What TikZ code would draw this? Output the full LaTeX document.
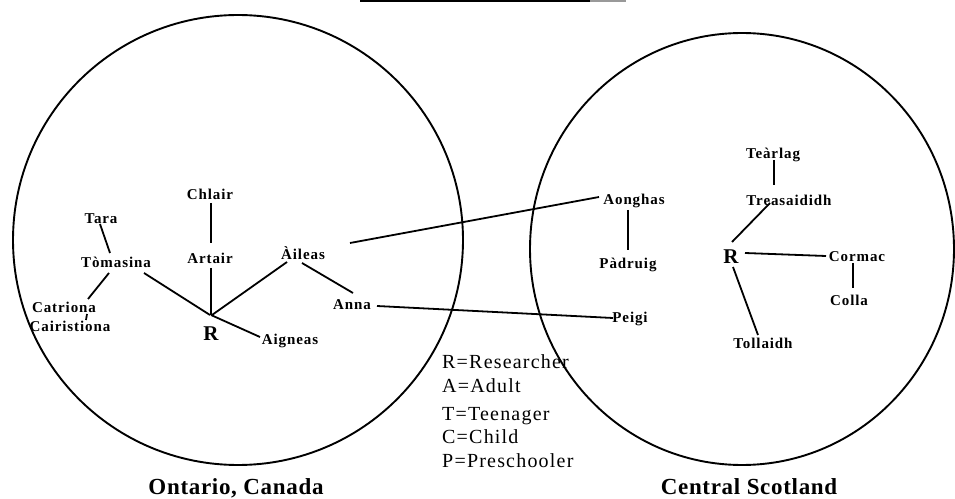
\documentclass[tikz,border=0pt]{standalone}
\usepackage{fontspec}
\setmainfont{Liberation Serif}
\newfontfamily\namefont[LetterSpace=6]{Liberation Serif}
\newfontfamily\legfont[LetterSpace=6]{Liberation Serif}
\newfontfamily\placefont[LetterSpace=3]{Liberation Serif}
\usetikzlibrary{calc}
\begin{document}
\begin{tikzpicture}[x=1bp,y=-1bp,
  person/.style={inner sep=1bp,font=\namefont\bfseries\fontsize{15bp}{17bp}\selectfont},
  rnode/.style={inner sep=1bp,font=\bfseries\fontsize{21bp}{24bp}\selectfont},
  legend/.style={anchor=base west,inner sep=0pt,font=\legfont\fontsize{20bp}{24bp}\selectfont},
  place/.style={anchor=base,inner sep=0pt,font=\placefont\bfseries\fontsize{23bp}{26bp}\selectfont},
  ring/.style={draw=black,line width=1.9bp},
  link/.style={draw=black,line width=1.8bp}]
\useasboundingbox (0,0) rectangle (955,499);

% circles
\draw[ring] (238,240) circle [radius=225];
\draw[ring] (742,249) ellipse [x radius=212, y radius=216];

% cut-off title rule at the top
\coordinate (t1) at (360,1);
\coordinate (t2) at (590,1);
\coordinate (t3) at (626,1);
\draw[line width=2.4bp] (t1) -- (t2);
\draw[line width=2.4bp,black!40] (t2) -- (t3);

% left tree
\node[person] (tara) at (101,219) {Tara};
\node[person] (toma) at (116,262) {Tòmasina};
\node[person] (catr) at (64,307) {Catriona};
\node[person] (cair) at (70,326) {Cairistiona};
\node[person] (chla) at (210,194) {Chlair};
\node[person] (arta) at (210,258) {Artair};
\node[person] (aile) at (303,253) {Àileas};
\node[person] (anna) at (352,305) {Anna};
\node[rnode]  (rl)   at (211,334) {R};
\node[person] (aign) at (290,341) {Aigneas};

% right tree
\node[person] (aong) at (634,201) {Aonghas};
\node[person] (padr) at (628,265) {Pàdruig};
\node[person] (peig) at (630,319) {Peigi};
\node[person] (tear) at (773,155) {Teàrlag};
\node[person] (trea) at (789,200) {Treasaididh};
\node[rnode]  (rr)   at (731,257) {R};
\node[person] (corm) at (857,257) {Cormac};
\node[person] (coll) at (849,300) {Colla};
\node[person] (toll) at (763,343) {Tollaidh};

% left connectors
\draw[link] ($(tara)+(-1,5)$) -- ($(toma)+(-6,-9)$);
\draw[link] ($(toma)+(-7,11)$) -- ($(catr)+(24,-8)$);
\draw[link] ($(catr)+(23,7)$) -- ($(cair)+(16,-6)$);
\draw[link] ($(toma)+(28,11)$) -- ($(rl)+(-1,-19)$);
\draw[link] ($(chla)+(1,9)$) -- ($(arta)+(1,-15)$);
\draw[link] ($(arta)+(1,10)$) -- ($(rl)+(0,-19)$);
\draw[link] ($(aile)+(-16,9)$) -- ($(rl)+(1,-19)$);
\draw[link] ($(aile)+(-1,10)$) -- ($(anna)+(1,-12)$);
\draw[link] ($(rl)+(0,-19)$) -- ($(aign)+(-30,-4)$);

% cross connectors
\draw[link] ($(aile)+(47,-10)$) -- ($(aong)+(-35,-4)$);
\draw[link] ($(anna)+(25,1)$) -- ($(peig)+(-17,-1)$);

% right connectors
\draw[link] ($(aong)+(-6,9)$) -- ($(padr)+(0,-15)$);
\draw[link] ($(tear)+(1,5)$) -- ($(trea)+(-15,-15)$);
\draw[link] ($(trea)+(-19,3)$) -- ($(rr)+(1,-15)$);
\draw[link] ($(rr)+(14,-4)$) -- ($(corm)+(-31,-1)$);
\draw[link] ($(corm)+(-4,6)$) -- ($(coll)+(4,-12)$);
\draw[link] ($(rr)+(2,10)$) -- ($(toll)+(-5,-8)$);

% legend
\node[legend] (l1) at (442,369) {R=Researcher};
\node[legend] (l2) at (442,392) {A=Adult};
\node[legend] (l3) at (442,420) {T=Teenager};
\node[legend] (l4) at (442,443) {C=Child};
\node[legend] (l5) at (442,467) {P=Preschooler};

% places
\node[place] (ont) at (236,494) {Ontario, Canada};
\node[place] (sco) at (749,494) {Central Scotland};
\end{tikzpicture}
\end{document}
